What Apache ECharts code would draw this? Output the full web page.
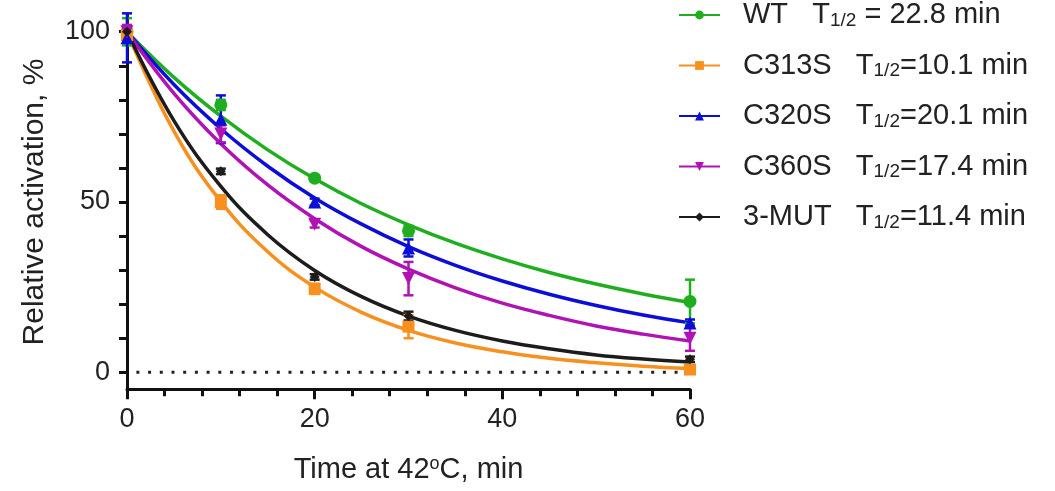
<!DOCTYPE html>
<html>
<head>
<meta charset="utf-8">
<script src="https://cdn.jsdelivr.net/npm/echarts@6/dist/echarts.min.js"></script>
<style>
  html, body { margin: 0; padding: 0; background: #fff; }
  #chart { width: 1055px; height: 491px; }
</style>
</head>
<body>
<div id="chart"></div>
<script>
// measured time points (min)
const times = [0, 10, 20, 30, 60];

// mean relative activation (%) and error (+/-)
const wtMean = [100, 78.5, 57, 41.5, 20.8];
const wtErr = [4, 1.5, 0.8, 1.5, 6.4];
const c313Mean = [99, 50, 24.5, 13.4, 0.8];
const c313Err = [2, 2, 1.5, 3.4, 0.5];
const c320Mean = [98.2, 74.3, 50, 36.5, 14.5];
const c320Err = [7.2, 7, 1, 2.5, 1];
const c360Mean = [100, 70, 43.5, 27.5, 10];
const c360Err = [2, 2.5, 1, 4.9, 3.7];
const mutMean = [100, 59, 28, 16.5, 3.8];
const mutErr = [1, 0.8, 0.8, 1.3, 0.8];

// fitted decay curves
const curveT = [0, 5, 10, 15, 20, 25, 30, 35, 40, 45, 50, 55, 60];
const wtCurve = [100, 86.6, 75.2, 65.3, 56.8, 49.5, 43.3, 37.9, 33.3, 29.3, 25.9, 23.0, 20.5];
const c313Curve = [100, 70.8, 50.1, 35.4, 25.0, 17.6, 12.3, 8.6, 6.0, 4.1, 2.8, 1.8, 1.1];
const c320Curve = [100, 84.5, 71.5, 60.5, 51.2, 43.5, 36.9, 31.4, 26.8, 22.9, 19.6, 16.8, 14.5];
const c360Curve = [100, 81.9, 67.1, 55.0, 45.1, 36.9, 30.3, 24.8, 20.3, 16.7, 13.6, 11.2, 9.2];
const mutCurve = [100, 73.9, 54.6, 40.4, 29.9, 22.2, 16.5, 12.3, 9.2, 6.9, 5.1, 3.9, 3.0];

// legend names and half-life labels
const names = ['WT', 'C313S', 'C320S', 'C360S', '3-MUT'];
const halfLives = [' = 22.8 min', '=10.1 min', '=20.1 min', '=17.4 min', '=11.4 min'];
const nameGaps = ['   ', '   ', '   ', '   ', '   '];

// y tick values
const yLabels = [0, 50, 100];
const yTicks = [0, 10, 20, 30, 40, 50, 60, 70, 80, 90, 100];

const font = 'Liberation Sans';
const colors = ['#1fae1f', '#f7901e', '#0d0dd8', '#b012b4', '#1c1c1c'];
const symbols = ['circle', 'rect', 'triangle', 'path://M0,0L10,0L5,10Z', 'diamond'];
const symbolSizes = [13, 12, 13, 13, 10];

const means = [wtMean, c313Mean, c320Mean, c360Mean, mutMean];
const errs = [wtErr, c313Err, c320Err, c360Err, mutErr];
const curves = [wtCurve, c313Curve, c320Curve, c360Curve, mutCurve];

function pairs(xs, ys) {
    return xs.map((x, i) => [x, ys[i]]);
}

function errorBars(color) {
    return function (params, api) {
        const x = api.value(0);
        const top = api.coord([x, api.value(2)]);
        const bot = api.coord([x, api.value(1)]);
        const w = 5;
        const style = { stroke: color, lineWidth: 2.5 };
        return {
            type: 'group',
            children: [
                { type: 'line', shape: { x1: top[0], y1: top[1], x2: bot[0], y2: bot[1] }, style: style },
                { type: 'line', shape: { x1: top[0] - w, y1: top[1], x2: top[0] + w, y2: top[1] }, style: style },
                { type: 'line', shape: { x1: bot[0] - w, y1: bot[1], x2: bot[0] + w, y2: bot[1] }, style: style }
            ]
        };
    };
}

const series = [];

// dotted zero line
series.push({
    type: 'line',
    name: 'zero',
    data: [[1, 0], [60, 0]],
    symbol: 'none',
    silent: true,
    lineStyle: { color: '#222', width: 3, type: [3, 8.7] },
    z: 1
});

for (let i = 0; i < names.length; i++) {
    // fitted curve (also gives the legend icon)
    series.push({
        type: 'line',
        name: names[i],
        data: pairs(curveT, curves[i]),
        smooth: 0.4,
        symbol: symbols[i],
        showSymbol: false,
        color: colors[i],
        lineStyle: { color: colors[i], width: 3.5 },
        silent: true,
        z: 2
    });
    // error bars
    series.push({
        type: 'custom',
        name: names[i] + '-err',
        data: times.map((t, j) => [t, means[i][j] - errs[i][j], means[i][j] + errs[i][j]]),
        renderItem: errorBars(colors[i]),
        encode: { x: 0, y: [1, 2] },
        clip: false,
        silent: true,
        z: 3
    });
    // data points
    series.push({
        type: 'scatter',
        name: names[i] + '-pts',
        data: pairs(times, means[i]),
        symbol: symbols[i],
        symbolSize: symbolSizes[i],
        itemStyle: { color: colors[i], opacity: 1 },
        clip: false,
        silent: true,
        z: 4
    });
}

const option = {
    animation: false,
    backgroundColor: '#fff',
    textStyle: { fontFamily: font },
    grid: {
        left: 127,
        right: 365,
        top: 14.7,
        bottom: 101.7,
        containLabel: false,
        outerBoundsMode: 'none'
    },
    legend: {
        data: names,
        orient: 'vertical',
        left: 678,
        top: 0,
        padding: 0,
        itemGap: 20.5,
        itemWidth: 41,
        itemHeight: 11,
        selectedMode: false,
        formatter: function (name) {
            const i = names.indexOf(name);
            return name + nameGaps[i] + 'T{s|1/2}' + halfLives[i];
        },
        textStyle: {
            fontFamily: font,
            fontSize: 29,
            color: '#222',
            lineHeight: 30,
            padding: [0, 0, 0, 18],
            rich: {
                s: { fontFamily: font, fontSize: 19, lineHeight: 8, verticalAlign: 'bottom', color: '#222' }
            }
        }
    },
    xAxis: {
        type: 'value',
        min: 0,
        max: 60,
        interval: 20,
        name: 'Time at 42{o|o}C, min',
        nameLocation: 'middle',
        nameGap: 66,
        nameTextStyle: {
            fontFamily: font,
            fontSize: 29,
            color: '#222',
            lineHeight: 30,
            rich: {
                o: { fontFamily: font, fontSize: 18, lineHeight: 14, verticalAlign: 'top', color: '#222' }
            }
        },
        axisLine: { show: true, onZero: false, lineStyle: { color: '#111', width: 3 } },
        axisTick: { show: true, length: 10, lineStyle: { color: '#111', width: 3 } },
        minorTick: { show: true, splitNumber: 5, length: 7, lineStyle: { color: '#111', width: 3 } },
        axisLabel: { fontFamily: font, fontSize: 27, color: '#222', margin: 17 },
        splitLine: { show: false }
    },
    yAxis: {
        type: 'value',
        min: -5,
        max: 105,
        name: 'Relative activation, %',
        nameLocation: 'middle',
        nameGap: 77,
        nameTextStyle: { fontFamily: font, fontSize: 30, color: '#222' },
        axisLine: { show: true, onZero: false, lineStyle: { color: '#111', width: 3 } },
        axisTick: { show: true, length: 8, customValues: yTicks, lineStyle: { color: '#111', width: 3 } },
        axisLabel: { fontFamily: font, fontSize: 27, color: '#222', margin: 17, customValues: yLabels },
        splitLine: { show: false }
    },
    series: series
};

const chart = echarts.init(document.getElementById('chart'));
chart.setOption(option);
</script>
</body>
</html>
